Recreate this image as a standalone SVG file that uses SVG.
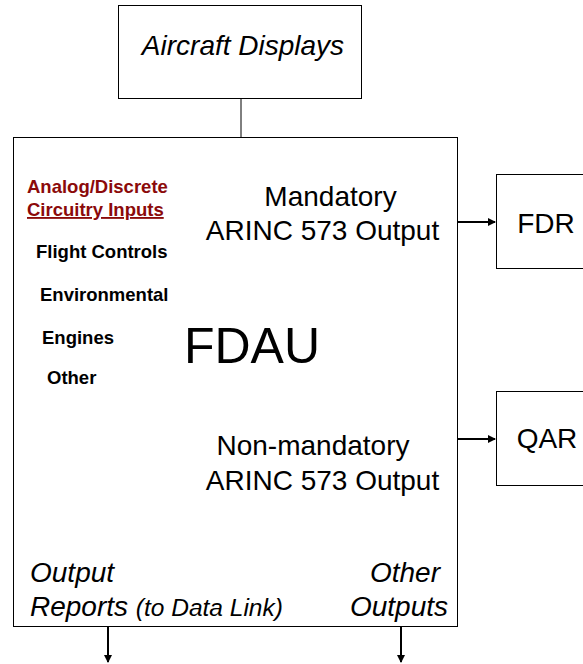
<svg xmlns="http://www.w3.org/2000/svg" width="583" height="664" viewBox="0 0 583 664">
<defs>
<style>
.box{fill:#fff;stroke:#000;stroke-width:1}
.t{font-family:"Liberation Sans",Arial,sans-serif;fill:#000}
.big{font-size:28px}
.it{font-style:italic}
.lbl{font-size:18.5px;font-weight:bold}
.red{fill:#8b0a0a;font-size:18.5px;font-weight:bold}
.ln{stroke:#000;stroke-width:2;fill:none}
</style>
<marker id="ah" markerWidth="8" markerHeight="8" refX="7" refY="4" orient="auto" markerUnits="userSpaceOnUse">
<path d="M0,0 L8,4 L0,8 z" fill="#000"/>
</marker>
</defs>
<rect width="583" height="664" fill="#fff"/>
<g id="connectors">
<line x1="241" y1="99" x2="241" y2="137" stroke="#000" stroke-width="1"/>
<line class="ln" x1="458" y1="222" x2="495" y2="222" marker-end="url(#ah)"/>
<line class="ln" x1="458" y1="439" x2="495" y2="439" marker-end="url(#ah)"/>
<line class="ln" x1="108" y1="627" x2="108" y2="662" marker-end="url(#ah)"/>
<line class="ln" x1="401" y1="627" x2="401" y2="662" marker-end="url(#ah)"/>
</g>
<g id="aircraft-displays">
<rect class="box" x="118.5" y="5.5" width="243" height="93"/>
<text class="t big it" x="243" y="55" text-anchor="middle">Aircraft Displays</text>
</g>
<g id="fdau">
<rect class="box" x="13.5" y="137.5" width="444" height="489"/>
<text class="t" x="252" y="363" text-anchor="middle" font-size="50">FDAU</text>
<text class="t red" x="27" y="193">Analog/Discrete</text>
<text class="t red" x="27" y="216" text-decoration="underline">Circuitry Inputs</text>
<text class="t lbl" x="36" y="258">Flight Controls</text>
<text class="t lbl" x="40" y="301">Environmental</text>
<text class="t lbl" x="42" y="344">Engines</text>
<text class="t lbl" x="47" y="384">Other</text>
<text class="t big" x="330.5" y="206" text-anchor="middle">Mandatory</text>
<text class="t big" x="322.5" y="240" text-anchor="middle">ARINC 573 Output</text>
<text class="t big" x="313" y="455" text-anchor="middle">Non-mandatory</text>
<text class="t big" x="322.5" y="490" text-anchor="middle">ARINC 573 Output</text>
<text class="t big it" x="30" y="582">Output</text>
<text class="t big it" x="30" y="616">Reports <tspan font-size="24.5">(to Data Link)</tspan></text>
<text class="t big it" x="440" y="582" text-anchor="end">Other</text>
<text class="t big it" x="448" y="616" text-anchor="end">Outputs</text>
</g>
<g id="fdr">
<rect class="box" x="496.5" y="174.5" width="100" height="94"/>
<text class="t big" x="546" y="233" text-anchor="middle">FDR</text>
</g>
<g id="qar">
<rect class="box" x="496.5" y="391.5" width="100" height="94"/>
<text class="t big" x="547" y="448" text-anchor="middle">QAR</text>
</g>
</svg>
